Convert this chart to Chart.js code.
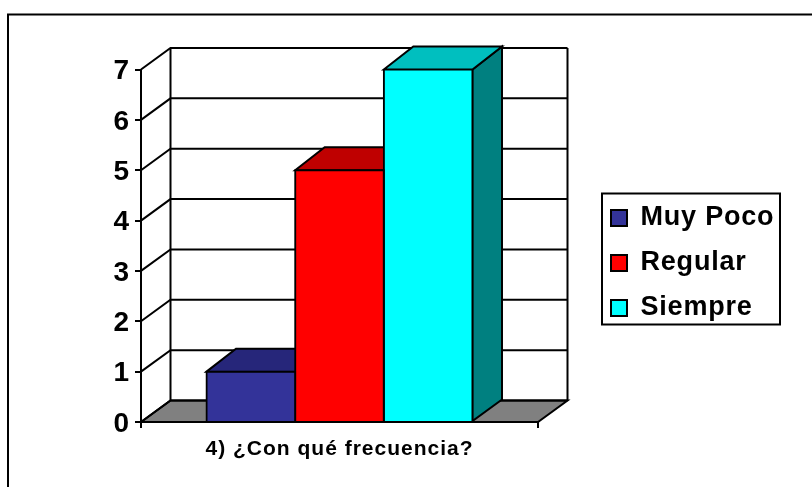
<!DOCTYPE html>
<html>
<head>
<meta charset="utf-8">
<style>html,body{margin:0;padding:0;background:#fff}canvas{display:block}</style>
<script src="https://cdn.jsdelivr.net/npm/chart.js@4"></script>
</head>
<body>
<canvas id="c" width="812" height="487"></canvas>
<script>
const categories = ["4) ¿Con qué frecuencia?"];
const seriesNames = ["Muy Poco", "Regular", "Siempre"];
const muyPoco = [1];
const regular = [5];
const siempre = [7];
const yTicks = [0, 1, 2, 3, 4, 5, 6, 7];
const frontColors = ["#333399", "#FF0000", "#00FFFF"];
const topColors = ["#26267A", "#BF0000", "#00BFBF"];
const sideColors = ["#1C1C55", "#800000", "#008080"];

const DX = 29.5, DY = 21.5, BAR_DY = 23;
const FONT = "'Liberation Sans', Arial, sans-serif";

function poly(ctx, pts, fill) {
  ctx.beginPath();
  pts.forEach((p, i) => i ? ctx.lineTo(p[0], p[1]) : ctx.moveTo(p[0], p[1]));
  ctx.closePath();
  if (fill) { ctx.fillStyle = fill; ctx.fill(); }
  ctx.stroke();
}

const depth3d = {
  id: "depth3d",
  afterLayout(chart) {
    const lg = chart.legend;
    const w = lg.width, h = lg.height;
    lg.left = 593; lg.right = 593 + w; lg.top = 186.5; lg.bottom = 186.5 + h;
    if (!lg._spaced) {
      const orig = lg.draw;
      lg.draw = function () {
        const ctx = this.ctx;
        ctx.save(); ctx.letterSpacing = "0.8px"; orig.call(this); ctx.restore();
      };
      lg._spaced = true;
    }
    const xs = chart.scales.x;
    if (!xs._spaced) {
      const orig = xs.drawLabels;
      xs.drawLabels = function (a) {
        const ctx = this.ctx;
        ctx.save(); ctx.letterSpacing = "1px"; orig.call(this, a); ctx.restore();
      };
      xs._spaced = true;
    }
  },
  beforeDatasetsDraw(chart) {
    const { ctx, chartArea: a, scales: { y } } = chart;
    ctx.save();
    ctx.strokeStyle = "#000";
    ctx.lineWidth = 2;
    ctx.lineJoin = "miter";
    // floor
    poly(ctx, [[a.left, a.bottom], [a.left + DX, a.bottom - DY], [a.right + DX, a.bottom - DY], [a.right, a.bottom]], "#808080");
    // back wall grid and left wall diagonals
    yTicks.forEach(v => {
      const py = y.getPixelForValue(v);
      ctx.beginPath();
      ctx.moveTo(a.left, py);
      ctx.lineTo(a.left + DX, py - DY);
      ctx.lineTo(a.right + DX, py - DY);
      ctx.stroke();
    });
    // back wall outline
    ctx.beginPath();
    ctx.moveTo(a.left + DX, y.getPixelForValue(0) - DY);
    ctx.lineTo(a.left + DX, y.getPixelForValue(7) - DY);
    ctx.moveTo(a.right + DX, y.getPixelForValue(7) - DY);
    ctx.lineTo(a.right + DX, y.getPixelForValue(0) - DY);
    ctx.stroke();
    // bar tops and sides
    chart.data.datasets.forEach((ds, i) => {
      const el = chart.getDatasetMeta(i).data[0];
      const l = el.x - el.width / 2, r = el.x + el.width / 2, t = el.y, b = el.base;
      poly(ctx, [[r, t], [r + DX, t - BAR_DY], [r + DX, b - DY], [r, b]], sideColors[i]);
      poly(ctx, [[l, t], [l + DX, t - BAR_DY], [r + DX, t - BAR_DY], [r, t]], topColors[i]);
    });
    ctx.restore();
  },
  afterDraw(chart) {
    const { ctx } = chart;
    ctx.save();
    ctx.strokeStyle = "#000";
    ctx.lineWidth = 2;
    // chart frame
    ctx.beginPath();
    ctx.moveTo(8, 487);
    ctx.lineTo(8, 14.5);
    ctx.lineTo(812, 14.5);
    ctx.stroke();
    // legend frame
    ctx.strokeRect(602, 193.5, 178, 131);
    ctx.restore();
  }
};

const sets = [muyPoco, regular, siempre];
new Chart(document.getElementById("c"), {
  type: "bar",
  plugins: [depth3d],
  data: {
    labels: categories,
    datasets: seriesNames.map((name, i) => ({
      label: name,
      data: sets[i],
      backgroundColor: frontColors[i],
      borderColor: "#000",
      borderWidth: 2,
      inflateAmount: 1,
      categoryPercentage: 0.67,
      barPercentage: 1
    }))
  },
  options: {
    responsive: false,
    animation: false,
    devicePixelRatio: 1,
    layout: { padding: { left: 0, top: 69.5, right: 274, bottom: 0 } },
    plugins: {
      title: { display: false },
      tooltip: { enabled: false },
      legend: {
        position: "chartArea",
        align: "start",
        labels: {
          color: "#000",
          boxWidth: 16,
          boxHeight: 16,
          padding: 18,
          font: { family: FONT, weight: "bold", size: 27 }
        }
      }
    },
    scales: {
      x: {
        afterFit(s) { s.height = 65; },
        border: { display: true, color: "#000", width: 2 },
        grid: { display: true, drawOnChartArea: false, drawTicks: true, tickLength: 6, color: "#000", lineWidth: 2, offset: true },
        ticks: { color: "#000", padding: 9, maxRotation: 0, font: { family: FONT, weight: "bold", size: 21 } }
      },
      y: {
        min: 0, max: 7,
        afterFit(s) { s.width = 141; },
        border: { display: true, color: "#000", width: 2 },
        grid: { display: true, drawOnChartArea: false, drawTicks: true, tickLength: 6, color: "#000", lineWidth: 2 },
        afterBuildTicks(s) { s.ticks = yTicks.map(v => ({ value: v })); },
        ticks: { color: "#000", padding: 6, labelOffset: 2, font: { family: FONT, weight: "bold", size: 28 } }
      }
    }
  }
});
</script>
</body>
</html>
